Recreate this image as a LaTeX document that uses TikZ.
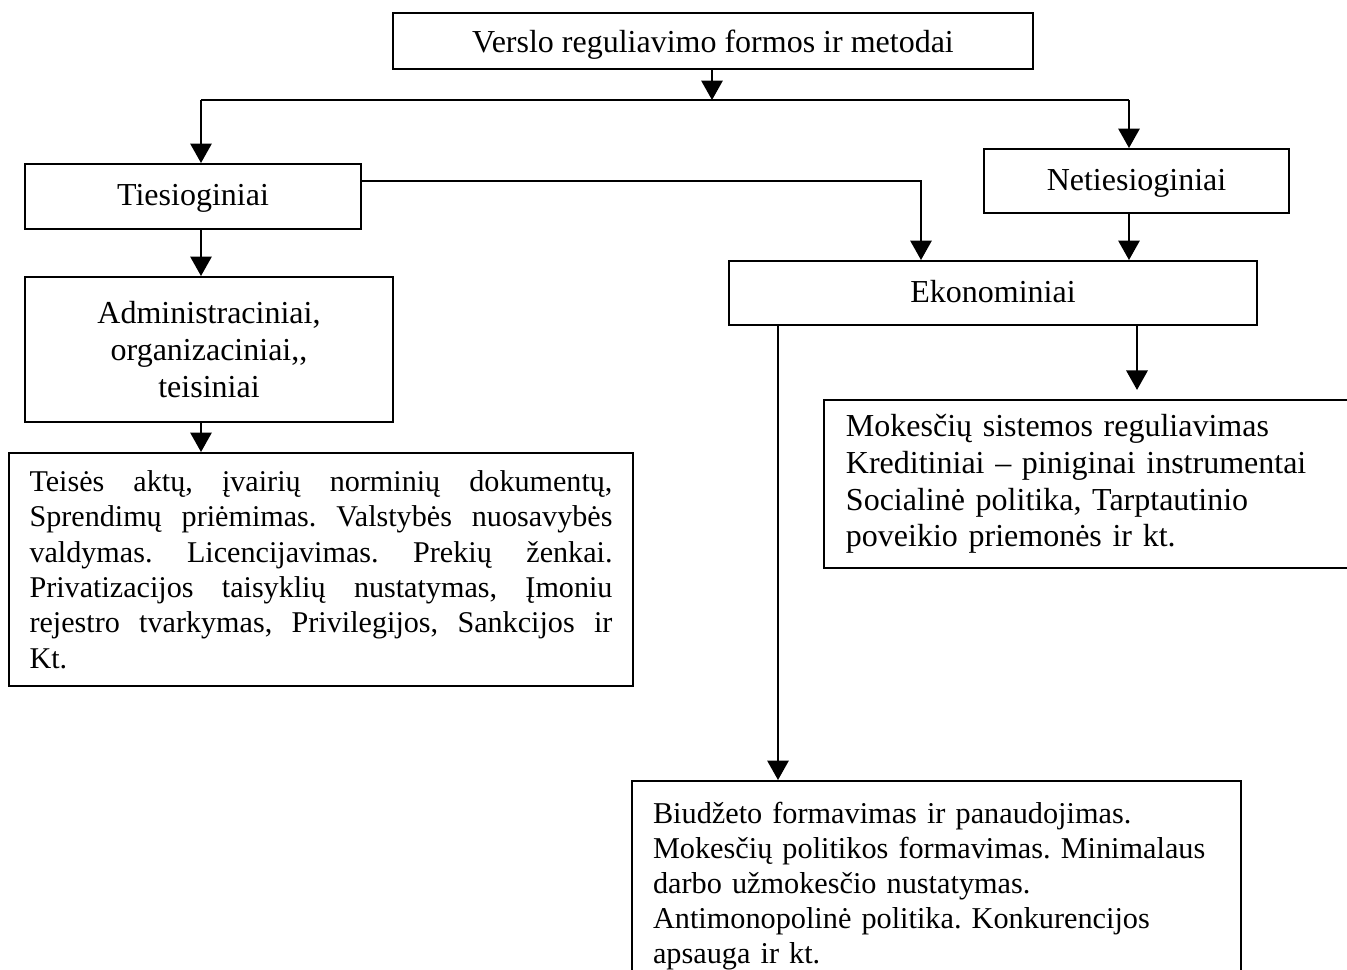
\documentclass[tikz,border=0pt]{standalone}
\usepackage{fontspec}
\setmainfont{Liberation Serif}
\usetikzlibrary{arrows.meta,calc}
\tikzset{
  box/.style={draw, line width=0.75pt, rectangle, inner sep=0pt, font=\fontsize{12pt}{13.8pt}\selectfont\frenchspacing},
  arr/.style={line width=0.75pt, -{Triangle[length=7.3pt,width=8pt]}},
  ln/.style={line width=0.75pt}
}
\begin{document}
\begin{tikzpicture}[x=0.375pt,y=-0.375pt]
\useasboundingbox (0,0) rectangle (1347,969);
% boxes
\node[box, minimum width=240pt, minimum height=21pt, text height=8.6pt, text depth=0pt] (top) at (713,41) {Verslo reguliavimo formos ir metodai};
\node[box, minimum width=126pt, minimum height=24.375pt, text height=6.9pt, text depth=0pt] (tie) at (193,196.5) {Tiesioginiai};
\node[box, minimum width=114.375pt, minimum height=24pt, text height=6.9pt, text depth=0pt] (net) at (1136.5,181) {Netiesioginiai};
\node[box, minimum width=198pt, minimum height=24pt, text height=6.9pt, text depth=0pt] (eko) at (993,293) {Ekonominiai};
\node[box, minimum width=138pt, minimum height=54.375pt, align=center] (adm) at (209,349.5)
  {Administraciniai,\\ organizaciniai,{},\\ teisiniai};
\node[box, minimum width=234pt, minimum height=87.375pt, text width=218.6pt, align=justify,
  font={\fontsize{11.3pt}{13.3pt}\selectfont\frenchspacing\tolerance=10000\relax}] (teis) at (321,569.5)
  {Teisės aktų, įvairių norminių dokumentų,\linebreak
   Sprendimų priėmimas. Valstybės nuosavybės\linebreak
   valdymas. Licencijavimas. Prekių ženkai.\linebreak
   Privatizacijos taisyklių nustatymas, Įmoniu\linebreak
   rejestro tvarkymas, Privilegijos, Sankcijos ir\linebreak
   Kt.};
\node[box, minimum width=202.9pt, minimum height=63pt, text width=186.4pt, align=left] (mok) at (1094.5,484)
  {Mokesčių sistemos reguliavimas\\
   Kreditiniai – piniginai instrumentai\\
   Socialinė politika, Tarptautinio\\
   poveikio priemonės ir kt.};
\node[box, minimum width=228.4pt, minimum height=78.75pt, text width=212.6pt, align=left,
  font={\fontsize{11.35pt}{13.2pt}\selectfont\frenchspacing\hyphenpenalty=10000\relax}] (biu) at (936.5,886)
  {Biudžeto formavimas ir panaudojimas.\\
   Mokesčių politikos formavimas. Minimalaus\\
   darbo užmokesčio nustatymas.\\
   Antimonopolinė politika. Konkurencijos\\
   apsauga ir kt.};
% junction coordinates
\coordinate (jl) at (201,100);
\coordinate (jr) at (1129,100);
\coordinate (jt) at (712,100);
\coordinate (ta) at (361,181);
\coordinate (te) at (921,181);
\coordinate (xr) at (1137,0);
\coordinate (xb) at (778,0);
% connectors
\draw[arr] (top.south -| jt) -- (jt);
\draw[ln] (jl) -- (jr);
\draw[arr] (jl) -- (tie.north -| jl);
\draw[arr] (jr) -- (net.north -| jr);
\draw[arr] (ta) -- (te) -- (eko.north -| te);
\draw[arr] (net.south -| jr) -- (eko.north -| jr);
\draw[arr] (tie.south -| jl) -- (adm.north -| jl);
\draw[arr] (adm.south -| jl) -- (teis.north -| jl);
\draw[arr, shorten >=3.4pt] (eko.south -| xr) -- (mok.north -| xr);
\draw[arr] (eko.south -| xb) -- (biu.north -| xb);
\end{tikzpicture}
\end{document}
